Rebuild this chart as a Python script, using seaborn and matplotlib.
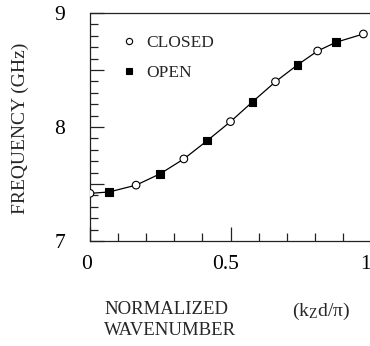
import matplotlib
matplotlib.use("Agg")
import matplotlib.pyplot as plt
import matplotlib.transforms as mtransforms
import seaborn as sns
import pandas as pd
import numpy as np
from matplotlib.ticker import MultipleLocator, FixedLocator

# Data
closed_x = [0.0, 0.164, 0.334, 0.50, 0.66, 0.81, 0.973]
closed_y = [7.418, 7.49, 7.72, 8.047, 8.397, 8.667, 8.816]
open_x = [0.068, 0.25, 0.417, 0.578, 0.738, 0.875]
open_y = [7.43, 7.59, 7.88, 8.22, 8.544, 8.743]
state_labels = ["CLOSED", "OPEN"]
x_ticklabels = ["0", "0.5", "1"]
y_ticklabels = ["7", "", "8", "", "9"]

df = pd.DataFrame({
    "k": closed_x + open_x,
    "f": closed_y + open_y,
    "state": [state_labels[0]] * len(closed_x) + [state_labels[1]] * len(open_x),
}).sort_values("k")

sns.set_theme(style="ticks")
plt.rcParams["font.family"] = ["Liberation Serif", "DejaVu Serif"]
plt.rcParams["mathtext.fontset"] = "stix"

fig = plt.figure(figsize=(3.70, 3.46), dpi=100)
ax = fig.add_axes([90 / 370, 1 - 241 / 346, 281 / 370, 228 / 346])

sns.lineplot(data=df, x="k", y="f", sort=True, color="black", lw=0.9, ax=ax, zorder=1)
sns.scatterplot(data=df, x="k", y="f", hue="state", style="state",
                hue_order=state_labels, style_order=state_labels,
                palette={"CLOSED": "white", "OPEN": "black"},
                markers={"CLOSED": "o", "OPEN": "s"},
                edgecolor="black", linewidth=0.8, s=30, ax=ax, zorder=3)

ax.set_xlim(0, 1.0)
ax.set_ylim(7, 9)
ax.xaxis.set_major_locator(FixedLocator([0, 0.5, 1.0]))
ax.set_xticklabels(x_ticklabels)
ax.xaxis.set_minor_locator(MultipleLocator(0.1))
ax.yaxis.set_major_locator(FixedLocator([7, 7.5, 8, 8.5, 9]))
ax.set_yticklabels(y_ticklabels)
ax.yaxis.set_minor_locator(MultipleLocator(0.1))
ax.tick_params(which="major", direction="in", length=10, width=0.9, color="#222222",
               labelsize=15.5, labelcolor="black")
ax.tick_params(axis="y", which="major", pad=18)
ax.tick_params(axis="x", which="major", pad=10)
ax.tick_params(which="minor", direction="in", length=6, width=0.9, color="#222222")
ax.tick_params(top=False, right=False, which="both")
for side in ["left", "bottom", "top"]:
    ax.spines[side].set_linewidth(0.9)
    ax.spines[side].set_color("#222222")
ax.spines["right"].set_visible(False)
ax.set_xlabel("")
ax.set_ylabel("")

# small horizontal shifts of x tick labels to match the reference
shifts_px = [-3, -5, -6]
for lbl, dx in zip(ax.get_xticklabels(), shifts_px):
    lbl.set_transform(lbl.get_transform() +
                      mtransforms.ScaledTranslation(dx / 100, 0, fig.dpi_scale_trans))

handles, labels = ax.get_legend_handles_labels()
for h in handles:
    if hasattr(h, "set_markersize"):
        h.set_markersize(4.5)
leg = ax.legend(handles, labels, loc="upper left", bbox_to_anchor=(0.052, 0.935),
                frameon=False, fontsize=12.5, handletextpad=0.0, labelspacing=0.8,
                borderaxespad=0)

fig.text(20 / 370, 1 - 128 / 346, "FREQUENCY (GHz)", rotation=90, fontsize=14,
         ha="center", va="center")
fig.text(104 / 370, 1 - 320 / 346, "NORMALIZED\nWAVENUMBER", fontsize=13.5,
         ha="left", va="center", linespacing=1.3)
fig.text(292 / 370, 1 - 311 / 346, r"(k$_\mathregular{Z}$d/π)", fontsize=14,
         ha="left", va="center")

fig.savefig("out.png", dpi=100)
